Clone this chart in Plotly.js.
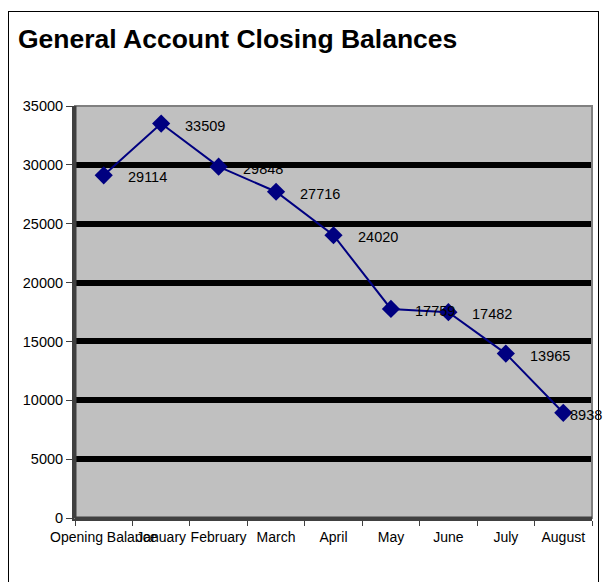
<!DOCTYPE html>
<html>
<head>
<meta charset="utf-8">
<script src="https://cdn.plot.ly/plotly-3.0.1.min.js"></script>
<style>html,body{margin:0;padding:0;background:#fff;}#chart{width:604px;height:582px;}</style>
</head>
<body>
<div id="chart"></div>
<script>
const categories = ["Opening Balance", "January", "February", "March", "April", "May", "June", "July", "August"];
const balances = [29114, 33509, 29848, 27716, 24020, 17759, 17482, 13965, 8938];
const labelShift = [22, 22, 22, 22, 22, 22, 22, 22, 5];

const FONT = "Liberation Sans, Arial, sans-serif";

const trace = {
  type: "scatter",
  mode: "lines+markers",
  x: categories,
  y: balances,
  line: {color: "#000080", width: 2},
  marker: {symbol: "diamond", size: 14, color: "#000080"},
  hoverinfo: "none",
  cliponaxis: false
};

const annotations = categories.map((c, i) => ({
  x: c, y: balances[i], xref: "x", yref: "y",
  text: String(balances[i]), showarrow: false,
  xanchor: "left", yanchor: "middle", xshift: labelShift[i], yshift: -2,
  font: {family: FONT, size: 14.5, color: "#000"}
}));

const layout = {
  width: 604, height: 582,
  paper_bgcolor: "#ffffff",
  plot_bgcolor: "#c0c0c0",
  margin: {l: 75, r: 12, t: 106, b: 64},
  showlegend: false,
  title: {
    text: "<b>General Account Closing Balances</b>",
    x: 18/604, xanchor: "left", xref: "container",
    y: 1 - 39/582, yanchor: "middle", yref: "container",
    font: {family: FONT, size: 26.5, color: "#000"}
  },
  xaxis: {
    type: "category",
    range: [-0.5, 8.5],
    tickson: "boundaries",
    tickangle: 0,
    ticks: "outside", ticklen: 5, tickcolor: "#404040", tickwidth: 1,
    ticklabelstandoff: 4,
    showgrid: false, zeroline: false,
    showline: true, linecolor: "#404040", linewidth: 3,
    tickfont: {family: FONT, size: 14, color: "#000"},
    fixedrange: true
  },
  yaxis: {
    range: [0, 35000],
    dtick: 5000,
    tickformat: "d",
    ticks: "outside", ticklen: 6, tickcolor: "#404040", tickwidth: 1,
    showgrid: true, gridcolor: "#000000", gridwidth: 6,
    zeroline: false,
    showline: true, linecolor: "#404040", linewidth: 3,
    tickfont: {family: FONT, size: 14.5, color: "#000"},
    fixedrange: true
  },
  annotations: annotations,
  shapes: [
    {type: "rect", xref: "paper", yref: "paper", x0: 0, x1: 1, y0: 0, y1: 1,
     line: {color: "#808080", width: 2}, fillcolor: "rgba(0,0,0,0)", layer: "above"},
    {type: "line", xref: "paper", yref: "paper", x0: 0, x1: 1, y0: 0, y1: 0,
     line: {color: "#404040", width: 3}, layer: "above"},
    {type: "line", xref: "paper", yref: "paper", x0: 0, x1: 0, y0: 0, y1: 1,
     line: {color: "#404040", width: 3}, layer: "above"}
  ]
};

Plotly.newPlot("chart", [trace], layout, {staticPlot: true, displayModeBar: false}).then(() => {
  const svg = document.querySelector("#chart .main-svg");
  const ns = "http://www.w3.org/2000/svg";
  const r = document.createElementNS(ns, "rect");
  r.setAttribute("x", 8.5); r.setAttribute("y", 11.5);
  r.setAttribute("width", 590); r.setAttribute("height", 580);
  r.setAttribute("fill", "none"); r.setAttribute("stroke", "#000"); r.setAttribute("stroke-width", 1);
  svg.appendChild(r);
});
</script>
</body>
</html>
